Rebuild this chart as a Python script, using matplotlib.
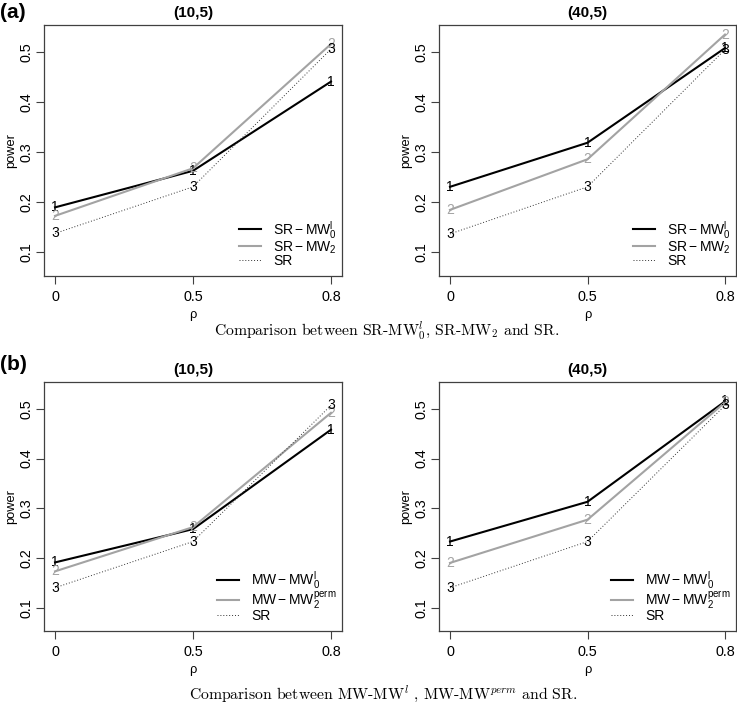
import matplotlib
matplotlib.use("Agg")
import matplotlib.pyplot as plt

plt.rcParams['font.family'] = ['Liberation Sans', 'DejaVu Sans']
plt.rcParams['mathtext.fontset'] = 'custom'
plt.rcParams['mathtext.rm'] = 'Liberation Sans'
plt.rcParams['mathtext.it'] = 'Liberation Sans:italic'
plt.rcParams['mathtext.bf'] = 'Liberation Sans:bold'

rho_labels = ["0", "0.5", "0.8"]
y_ticks = [0.1, 0.2, 0.3, 0.4, 0.5]
panel_titles = ["(10,5)", "(40,5)"]

# (a) SR-MW comparison
a_10_s1 = [0.190, 0.263, 0.441]
a_10_s2 = [0.173, 0.268, 0.516]
a_10_s3 = [0.138, 0.231, 0.506]
a_40_s1 = [0.231, 0.319, 0.508]
a_40_s2 = [0.185, 0.286, 0.535]
a_40_s3 = [0.137, 0.231, 0.505]
# (b) MW-MW comparison
b_10_s1 = [0.191, 0.258, 0.458]
b_10_s2 = [0.173, 0.262, 0.492]
b_10_s3 = [0.140, 0.233, 0.507]
b_40_s1 = [0.233, 0.313, 0.515]
b_40_s2 = [0.190, 0.277, 0.513]
b_40_s3 = [0.140, 0.233, 0.507]

legend_a = [r'$\mathrm{SR - MW_0^{l}}$', r'$\mathrm{SR - MW_2}$', 'SR']
legend_b = [r'$\mathrm{MW - MW_0^{l}}$', r'$\mathrm{MW - MW_2^{perm}}$', 'SR']

W, H = 737, 707
fig = plt.figure(figsize=(W / 100, H / 100), dpi=100)

def frac(x0, x1, ytop, ybot):
    return [x0 / W, 1 - ybot / H, (x1 - x0) / W, (ybot - ytop) / H]

GRAY = '#a3a3a3'
BOX = '#404040'
TFS = 10.4   # tick labels
LFS = 9.3    # axis labels
GFS = 10.0   # legend

def panel(rect, series, labels, title):
    ax = fig.add_axes(rect)
    xs = [1, 2, 3]
    styles = [dict(color='black', lw=1.5, ls='-'),
              dict(color=GRAY, lw=1.5, ls='-'),
              dict(color='#333333', lw=0.7, ls=(0, (1, 2)))]
    txtcol = ['black', GRAY, 'black']
    for i, (ys, st) in enumerate(zip(series, styles)):
        ax.plot(xs, ys, label=labels[i], zorder=2, **st)
        for x, y in zip(xs, ys):
            ax.text(x, y, str(i + 1), ha='center', va='center', fontsize=10,
                    color=txtcol[i], zorder=3)
    ax.set_xlim(0.92, 3.08)
    ax.set_ylim(0.053, 0.554)
    ax.set_xticks(xs)
    ax.set_xticklabels(rho_labels, fontsize=TFS)
    ax.set_yticks(y_ticks)
    ax.set_yticklabels([f"{v:g}" for v in y_ticks], fontsize=TFS, rotation=90, va='center')
    ax.tick_params(direction='out', length=6, width=0.8, color=BOX)
    ax.tick_params(axis='y', pad=1.5)
    ax.tick_params(axis='x', pad=4)
    for s in ax.spines.values():
        s.set_color(BOX)
        s.set_linewidth(0.9)
    ax.set_xlabel('ρ', fontsize=LFS, labelpad=4)
    ax.set_ylabel('power', fontsize=LFS, labelpad=2)
    ax.set_title(title, fontsize=11, fontweight='bold', pad=6)
    ax.legend(loc='lower right', bbox_to_anchor=(1.0, 0.012), frameon=False,
              fontsize=GFS, handlelength=1.6, handletextpad=0.9, labelspacing=-0.1,
              borderaxespad=0.05, borderpad=0.3)
    return ax

panel(frac(44, 342, 25, 276), [a_10_s1, a_10_s2, a_10_s3], legend_a, panel_titles[0])
panel(frac(439, 736, 25, 276), [a_40_s1, a_40_s2, a_40_s3], legend_a, panel_titles[1])
panel(frac(44, 342, 382, 631), [b_10_s1, b_10_s2, b_10_s3], legend_b, panel_titles[0])
panel(frac(439, 736, 382, 631), [b_40_s1, b_40_s2, b_40_s3], legend_b, panel_titles[1])

fig.text(0 / W, 1 - 12 / H, '(a)', fontsize=15, fontweight='bold', ha='left', va='center')
fig.text(0 / W, 1 - 364 / H, '(b)', fontsize=15, fontweight='bold', ha='left', va='center')

fig.text(387 / W, 1 - 331 / H, r'Comparison between SR-MW$_0^l$, SR-MW$_2$ and SR.',
         family='cmr10', math_fontfamily='cm', fontsize=11.3, ha='center', va='center')
fig.text(383 / W, 1 - 694 / H, r'Comparison between MW-MW$^l$ , MW-MW$^{perm}$ and SR.',
         family='cmr10', math_fontfamily='cm', fontsize=11.3, ha='center', va='center')

fig.savefig('out.png', dpi=100)
